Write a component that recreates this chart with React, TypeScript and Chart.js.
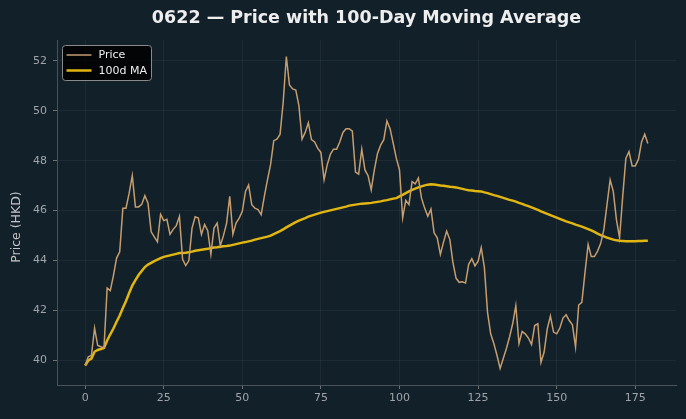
import React, { useEffect, useRef } from 'react';
import { Chart, registerables } from 'chart.js';

Chart.register(...registerables);

// Trading-day index (x axis)
const dayIndex: number[] = [
  0, 1, 2, 3, 4, 5, 6, 7, 8, 9, 10, 11, 12, 13, 14, 15, 16, 17, 18, 19,
  20, 21, 22, 23, 24, 25, 26, 27, 28, 29, 30, 31, 32, 33, 34, 35, 36, 37, 38, 39,
  40, 41, 42, 43, 44, 45, 46, 47, 48, 49, 50, 51, 52, 53, 54, 55, 56, 57, 58, 59,
  60, 61, 62, 63, 64, 65, 66, 67, 68, 69, 70, 71, 72, 73, 74, 75, 76, 77, 78, 79,
  80, 81, 82, 83, 84, 85, 86, 87, 88, 89, 90, 91, 92, 93, 94, 95, 96, 97, 98, 99,
  100, 101, 102, 103, 104, 105, 106, 107, 108, 109, 110, 111, 112, 113, 114, 115, 116, 117, 118, 119,
  120, 121, 122, 123, 124, 125, 126, 127, 128, 129, 130, 131, 132, 133, 134, 135, 136, 137, 138, 139,
  140, 141, 142, 143, 144, 145, 146, 147, 148, 149, 150, 151, 152, 153, 154, 155, 156, 157, 158, 159,
  160, 161, 162, 163, 164, 165, 166, 167, 168, 169, 170, 171, 172, 173, 174, 175, 176, 177, 178, 179,
];

// Closing price (HKD)
const price: number[] = [
  39.8, 40.15, 40.2, 41.3, 40.6, 40.55, 40.5, 42.9, 42.8, 43.4,
  44.1, 44.35, 46.1, 46.1, 46.7, 47.4, 46.15, 46.15, 46.25, 46.6,
  46.3, 45.15, 44.95, 44.75, 45.85, 45.6, 45.65, 45.05, 45.25, 45.4,
  45.77, 44.05, 43.8, 44.0, 45.3, 45.75, 45.7, 45.05, 45.45, 45.2,
  44.25, 45.3, 45.5, 44.6, 45.0, 45.5, 46.57, 45.05, 45.5, 45.7,
  45.97, 46.77, 47.03, 46.24, 46.1, 46.04, 45.84, 46.57, 47.23, 47.85,
  48.8, 48.86, 49.05, 50.34, 52.17, 51.03, 50.87, 50.83, 50.2, 48.86,
  49.13, 49.52, 48.84, 48.75, 48.49, 48.33, 47.23, 47.83, 48.25, 48.46,
  48.46, 48.75, 49.13, 49.28, 49.28, 49.18, 47.54, 47.46, 48.46, 47.63,
  47.4, 46.83, 47.63, 48.29, 48.62, 48.84, 49.59, 49.28, 48.69, 48.09,
  47.63, 45.71, 46.41, 46.24, 47.16, 47.07, 47.3, 46.5, 46.1, 45.77,
  46.06, 45.11, 44.91, 44.25, 44.74, 45.18, 44.85, 43.92, 43.29, 43.13,
  43.15, 43.1, 43.85, 44.08, 43.79, 43.98, 44.52, 43.72, 41.93, 41.07,
  40.68, 40.21, 39.68, 40.08, 40.48, 40.94, 41.47, 42.2, 40.68, 41.16,
  41.07, 40.9, 40.64, 41.4, 41.47, 39.92, 40.34, 41.27, 41.78, 41.14,
  41.07, 41.3, 41.7, 41.83, 41.6, 41.43, 40.54, 42.22, 42.33, 43.52,
  44.65, 44.16, 44.16, 44.38, 44.69, 45.24, 46.24, 47.23, 46.77, 45.64,
  44.91, 46.57, 48.09, 48.36, 47.79, 47.79, 48.05, 48.75, 49.06, 48.69,
];

// 100-day moving average (HKD)
const ma100: number[] = [
  39.8, 40.0, 40.08, 40.35, 40.42, 40.46, 40.5, 40.8, 41.05, 41.28,
  41.55, 41.8, 42.1, 42.38, 42.7, 43.0, 43.22, 43.42, 43.58, 43.74,
  43.84, 43.91, 43.98, 44.04, 44.1, 44.15, 44.18, 44.21, 44.24, 44.27,
  44.3, 44.3, 44.31, 44.33, 44.36, 44.39, 44.41, 44.43, 44.45, 44.47,
  44.5, 44.52, 44.53, 44.55, 44.57, 44.58, 44.6, 44.63, 44.66, 44.69,
  44.72, 44.74, 44.77, 44.8, 44.84, 44.87, 44.9, 44.93, 44.96, 45.0,
  45.06, 45.12, 45.18, 45.25, 45.33, 45.4, 45.47, 45.54, 45.6, 45.65,
  45.7, 45.76, 45.8, 45.84, 45.88, 45.92, 45.95, 45.98, 46.01, 46.04,
  46.07, 46.1, 46.13, 46.16, 46.2, 46.22, 46.24, 46.26, 46.28, 46.29,
  46.3, 46.31, 46.33, 46.35, 46.37, 46.4, 46.42, 46.45, 46.48, 46.5,
  46.57, 46.63, 46.7, 46.77, 46.83, 46.88, 46.93, 46.97, 47.01, 47.04,
  47.06, 47.05, 47.03, 47.01, 47.0, 46.98, 46.96, 46.95, 46.93, 46.9,
  46.87, 46.84, 46.82, 46.81, 46.79, 46.78, 46.77, 46.73, 46.7, 46.66,
  46.62, 46.59, 46.55, 46.51, 46.47, 46.43, 46.4, 46.36, 46.31, 46.27,
  46.22, 46.18, 46.13, 46.08, 46.03, 45.97, 45.92, 45.87, 45.82, 45.77,
  45.72, 45.67, 45.62, 45.57, 45.53, 45.49, 45.44, 45.4, 45.36, 45.31,
  45.26, 45.21, 45.15, 45.08, 45.02, 44.97, 44.92, 44.88, 44.84, 44.81,
  44.79, 44.78, 44.77, 44.77, 44.77, 44.77, 44.78, 44.78, 44.79, 44.79,
];

const xTicks: number[] = [0, 25, 50, 75, 100, 125, 150, 175];
const yTicks: number[] = [40, 42, 44, 46, 48, 50, 52];

const TITLE = '0622 — Price with 100-Day Moving Average';
const Y_TITLE = 'Price (HKD)';
const SERIES_LABELS = ['Price', '100d MA'];

const BG = '#12202a';
const PRICE_COLOR = '#c69d6d';
const MA_COLOR = '#e2b610';
const FONT = '"DejaVu Sans", Verdana, sans-serif';

const titlePlugin = {
  id: 'customTitle',
  afterDraw(chart: any) {
    const { ctx, chartArea } = chart;
    ctx.save();
    ctx.fillStyle = '#eeeeee';
    ctx.font = `bold 17.5px ${FONT}`;
    ctx.textAlign = 'center';
    ctx.textBaseline = 'middle';
    ctx.fillText(TITLE, (chartArea.left + chartArea.right) / 2, 18);
    // y-axis title
    ctx.translate(17, 227);
    ctx.rotate(-Math.PI / 2);
    ctx.fillStyle = '#c4c4c4';
    ctx.font = `12.5px ${FONT}`;
    ctx.fillText(Y_TITLE, 0, 0);
    ctx.restore();
  },
};

const legendPlugin = {
  id: 'customLegend',
  afterDraw(chart: any) {
    const { ctx, chartArea } = chart;
    const x0 = chartArea.left + 5.5;
    const y0 = chartArea.top + 5.5;
    const w = 89;
    const h = 35;
    ctx.save();
    ctx.beginPath();
    const r = 3;
    ctx.moveTo(x0 + r, y0);
    ctx.lineTo(x0 + w - r, y0);
    ctx.quadraticCurveTo(x0 + w, y0, x0 + w, y0 + r);
    ctx.lineTo(x0 + w, y0 + h - r);
    ctx.quadraticCurveTo(x0 + w, y0 + h, x0 + w - r, y0 + h);
    ctx.lineTo(x0 + r, y0 + h);
    ctx.quadraticCurveTo(x0, y0 + h, x0, y0 + h - r);
    ctx.lineTo(x0, y0 + r);
    ctx.quadraticCurveTo(x0, y0, x0 + r, y0);
    ctx.closePath();
    ctx.fillStyle = 'rgba(0,0,0,0.85)';
    ctx.fill();
    ctx.strokeStyle = '#8a8a8a';
    ctx.lineWidth = 1;
    ctx.stroke();

    const ds = chart.data.datasets;
    ds.forEach((d: any, i: number) => {
      const ly = y0 + 9.5 + i * 15.5;
      ctx.beginPath();
      ctx.moveTo(x0 + 4, ly);
      ctx.lineTo(x0 + 29, ly);
      ctx.strokeStyle = d.borderColor;
      ctx.lineWidth = d.borderWidth;
      ctx.stroke();
      ctx.fillStyle = '#eeeeee';
      ctx.font = `11px ${FONT}`;
      ctx.textAlign = 'left';
      ctx.textBaseline = 'middle';
      ctx.fillText(d.label, x0 + 36, ly + 0.5);
    });
    ctx.restore();
  },
};

const bgPlugin = {
  id: 'bg',
  beforeDraw(chart: any) {
    const { ctx, width, height } = chart;
    ctx.save();
    ctx.fillStyle = BG;
    ctx.fillRect(0, 0, width, height);
    ctx.restore();
  },
};

export default function App() {
  const canvasRef = useRef<HTMLCanvasElement | null>(null);

  useEffect(() => {
    document.body.style.margin = '0';
    document.body.style.background = BG;
    const canvas = canvasRef.current;
    if (!canvas) return;
    const chart = new Chart(canvas, {
      type: 'line',
      data: {
        datasets: [
          {
            label: SERIES_LABELS[0],
            data: price.map((v, i) => ({ x: dayIndex[i], y: v })),
            borderColor: PRICE_COLOR,
            borderWidth: 1.5,
            pointRadius: 0,
            tension: 0,
            fill: false,
          },
          {
            label: SERIES_LABELS[1],
            data: ma100.map((v, i) => ({ x: dayIndex[i], y: v })),
            borderColor: MA_COLOR,
            borderWidth: 2.5,
            pointRadius: 0,
            tension: 0,
            fill: false,
          },
        ],
      },
      options: {
        responsive: false,
        animation: false,
        devicePixelRatio: 1,
        layout: { padding: { top: 40, right: 10, left: 0, bottom: 0 } },
        plugins: {
          legend: { display: false },
          title: { display: false },
          tooltip: { enabled: false },
        },
        scales: {
          x: {
            type: 'linear',
            min: -8.95,
            max: 187.95,
            afterBuildTicks: (s: any) => {
              s.ticks = xTicks.map((v) => ({ value: v }));
            },
            afterFit: (s: any) => {
              s.height = 34;
            },
            ticks: {
              color: '#a0a4a8',
              font: { family: FONT, size: 11 },
              padding: 3,
              maxRotation: 0,
              autoSkip: false,
            },
            grid: {
              color: 'rgba(255,255,255,0.05)',
              tickColor: '#707070',
              tickLength: 4,
              lineWidth: 1,
            },
            border: { color: '#4a5258', width: 1 },
          },
          y: {
            type: 'linear',
            min: 39.02,
            max: 52.83,
            afterBuildTicks: (s: any) => {
              s.ticks = yTicks.map((v) => ({ value: v }));
            },
            afterFit: (s: any) => {
              s.width = 57;
            },
            ticks: {
              color: '#a0a4a8',
              font: { family: FONT, size: 11 },
              padding: 6,
            },
            grid: {
              color: 'rgba(255,255,255,0.05)',
              tickColor: '#707070',
              tickLength: 4,
              lineWidth: 1,
            },
            border: { color: '#4a5258', width: 1 },
            title: { display: false },
          },
        },
      },
      plugins: [bgPlugin, titlePlugin, legendPlugin],
    } as any);
    return () => chart.destroy();
  }, []);

  return (
    <div style={{ position: 'fixed', left: 0, top: 0, width: 686, height: 419, background: BG }}>
      <canvas ref={canvasRef} width={686} height={419} style={{ display: 'block', width: 686, height: 419 }} />
    </div>
  );
}
